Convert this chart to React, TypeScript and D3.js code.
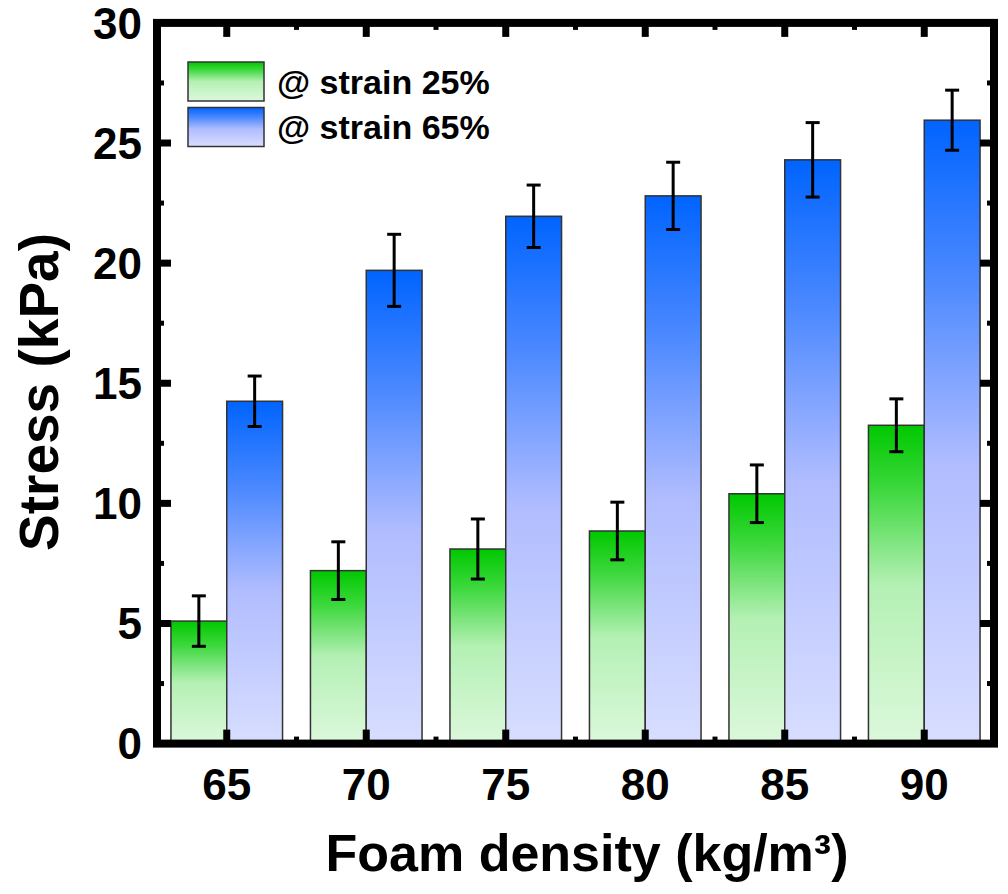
import React from 'react';
import * as d3 from 'd3';

const densities = [65, 70, 75, 80, 85, 90];
const strain25 = [5.1, 7.2, 8.1, 8.85, 10.4, 13.25];
const strain25Err = [1.05, 1.2, 1.25, 1.2, 1.2, 1.1];
const strain65 = [14.25, 19.7, 21.95, 22.8, 24.3, 25.95];
const strain65Err = [1.05, 1.5, 1.3, 1.4, 1.55, 1.25];
const yTicks = [0, 5, 10, 15, 20, 25, 30];
const seriesNames = ['@ strain 25%', '@ strain 65%'];

const W = 1008;
const H = 894;
const FONT = '"Liberation Sans", Arial, sans-serif';

function App(): React.ReactElement {
  const x = d3.scaleLinear().domain([62.5, 92.5]).range([157, 994]);
  const y = d3.scaleLinear().domain([0, 30]).range([743.6, 22.9]);
  const barW = x(2) - x(0);
  const yMinor = d3.range(2.5, 30, 5);
  const xMinor = d3.range(67.5, 92.5, 5);

  const series = [
    { vals: strain25, errs: strain25Err, grad: 'gGreen', off: -1 },
    { vals: strain65, errs: strain65Err, grad: 'gBlue', off: 0 },
  ];

  return (
    <svg width={W} height={H} style={{ display: 'block', position: 'absolute', left: 0, top: 0 }}>
      <defs>
        <linearGradient id="gGreen" x1="0" y1="0" x2="0" y2="1">
          <stop offset="0%" stopColor="#00c800" />
          <stop offset="20%" stopColor="#3dd83d" />
          <stop offset="50%" stopColor="#b4f0b4" />
          <stop offset="100%" stopColor="#dcf8dc" />
        </linearGradient>
        <linearGradient id="gBlue" x1="0" y1="0" x2="0" y2="1">
          <stop offset="0%" stopColor="#0064ff" />
          <stop offset="25%" stopColor="#4a88ff" />
          <stop offset="55%" stopColor="#b0bcff" />
          <stop offset="100%" stopColor="#d8deff" />
        </linearGradient>
      </defs>
      <rect width={W} height={H} fill="#fff" />

      {series.map((s, si) =>
        densities.map((d, i) => {
          const x0 = x(d + s.off * 2 + (s.off === 0 ? 0 : 0));
          const left = s.off === -1 ? x(d) - barW : x(d);
          return (
            <g key={`b${si}-${i}`}>
              <rect
                x={left}
                y={y(s.vals[i])}
                width={barW}
                height={y(0) - y(s.vals[i])}
                fill={`url(#${s.grad})`}
                stroke="#333"
                strokeWidth={1.5}
                data-x0={x0}
              />
            </g>
          );
        })
      )}

      {series.map((s, si) =>
        densities.map((d, i) => {
          const cx = (s.off === -1 ? x(d) - barW : x(d)) + barW / 2;
          const hi = y(s.vals[i] + s.errs[i]);
          const lo = y(s.vals[i] - s.errs[i]);
          return (
            <g key={`e${si}-${i}`} stroke="#000" strokeWidth={3}>
              <line x1={cx} x2={cx} y1={hi} y2={lo} />
              <line x1={cx - 7} x2={cx + 7} y1={hi} y2={hi} />
              <line x1={cx - 7} x2={cx + 7} y1={lo} y2={lo} />
            </g>
          );
        })
      )}

      {/* frame */}
      <rect x={x(62.5)} y={y(30)} width={x(92.5) - x(62.5)} height={y(0) - y(30)} fill="none" stroke="#000" strokeWidth={8} />

      {/* y ticks */}
      {yTicks.slice(1, -1).map(t => (
        <g key={`yt${t}`} stroke="#000" strokeWidth={7}>
          <line x1={x(62.5)} x2={x(62.5) + 14} y1={y(t)} y2={y(t)} />
          <line x1={x(92.5)} x2={x(92.5) - 14} y1={y(t)} y2={y(t)} />
        </g>
      ))}
      {yMinor.map(t => (
        <g key={`ym${t}`} stroke="#000" strokeWidth={5}>
          <line x1={x(62.5)} x2={x(62.5) + 7} y1={y(t)} y2={y(t)} />
          <line x1={x(92.5)} x2={x(92.5) - 7} y1={y(t)} y2={y(t)} />
        </g>
      ))}
      {/* x ticks */}
      {densities.map(d => (
        <g key={`xt${d}`} stroke="#000" strokeWidth={7}>
          <line x1={x(d)} x2={x(d)} y1={y(0)} y2={y(0) - 14} />
          <line x1={x(d)} x2={x(d)} y1={y(30)} y2={y(30) + 14} />
        </g>
      ))}
      {xMinor.map(d => (
        <g key={`xm${d}`} stroke="#000" strokeWidth={5}>
          <line x1={x(d)} x2={x(d)} y1={y(0)} y2={y(0) - 7} />
          <line x1={x(d)} x2={x(d)} y1={y(30)} y2={y(30) + 7} />
        </g>
      ))}

      {/* tick labels */}
      {yTicks.map(t => (
        <text key={`yl${t}`} x={142} y={y(t)} dy="0.36em" textAnchor="end" fontFamily={FONT} fontWeight="bold" fontSize={44} fill="#000">
          {t}
        </text>
      ))}
      {densities.map(d => (
        <text key={`xl${d}`} x={x(d)} y={800} textAnchor="middle" fontFamily={FONT} fontWeight="bold" fontSize={44} fill="#000">
          {d}
        </text>
      ))}

      {/* axis titles */}
      <text x={587} y={871} textAnchor="middle" fontFamily={FONT} fontWeight="bold" fontSize={52} fill="#000">
        Foam density (kg/m³)
      </text>
      <text transform="translate(58,392) rotate(-90)" textAnchor="middle" fontFamily={FONT} fontWeight="bold" fontSize={55} fill="#000">
        Stress (kPa)
      </text>

      {/* legend */}
      {seriesNames.map((n, i) => (
        <g key={n}>
          <rect x={188} y={62 + i * 45.5} width={76} height={39} fill={`url(#${i === 0 ? 'gGreen' : 'gBlue'})`} stroke="#333" strokeWidth={1.5} />
          <text x={277} y={81.5 + i * 45.5} dy="0.36em" fontFamily={FONT} fontWeight="bold" fontSize={34} fill="#000">
            {n}
          </text>
        </g>
      ))}
    </svg>
  );
}

export default App;
